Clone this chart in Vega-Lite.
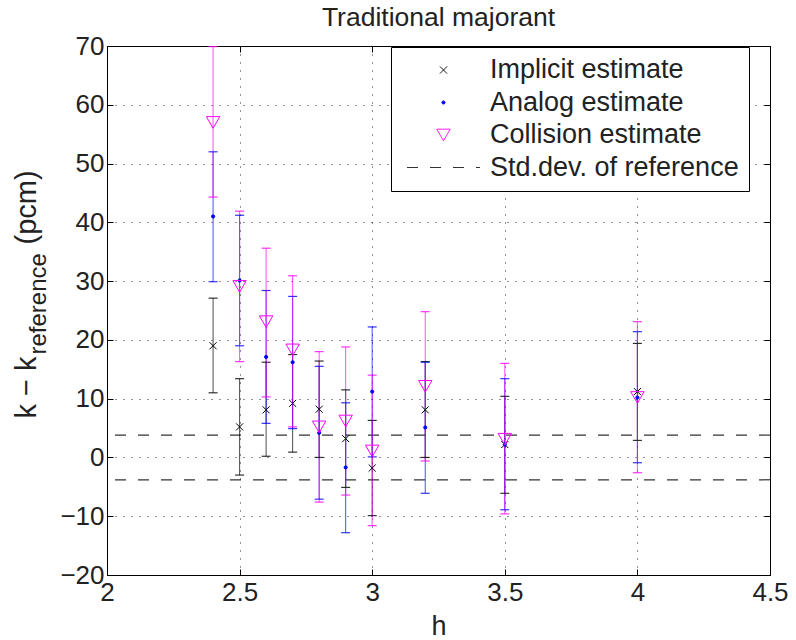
{
  "$schema": "https://vega.github.io/schema/vega-lite/v6.json",
  "width": 663,
  "height": 529,
  "autosize": {"type": "none"},
  "padding": {"left": 107, "top": 46, "right": 26, "bottom": 65},
  "background": "white",
  "title": {"text": "Traditional majorant", "fontSize": 26.5, "fontWeight": "normal", "color": "#222222", "offset": 2, "anchor": "middle", "font": "Liberation Sans"},
  "config": {
    "font": "Liberation Sans",
    "view": {"stroke": "black", "strokeWidth": 1},
    "axis": {
      "labelFontSize": 26, "labelColor": "#222222", "labelFont": "Liberation Sans",
      "titleFontSize": 29, "titleFontWeight": "normal", "titleColor": "#222222", "titleFont": "Liberation Sans",
      "gridColor": "#000000", "gridDash": [1, 7], "gridOpacity": 0.85, "gridWidth": 1,
      "tickColor": "#000000", "tickSize": -6, "tickWidth": 1,
      "domain": false, "labelFlush": false, "labelOverlap": false
    },
    "legend": {
      "orient": "none", "legendX": 284, "legendY": 1,
      "labelFontSize": 27, "labelFont": "Liberation Sans", "labelColor": "#222222", "labelLimit": 400,
      "padding": 10, "rowPadding": 5.5, "labelOffset": 33, "symbolOffset": 29, "symbolSize": 5329, "clipHeight": 26,
      "strokeColor": "black", "fillColor": "white", "symbolStrokeWidth": 1, "cornerRadius": 0
    }
  },
  "datasets": {
    "est": [
      {"h": 2.4, "series": "Implicit estimate", "val": 19.0, "lo": 11.0, "hi": 27.1},
      {"h": 2.5, "series": "Implicit estimate", "val": 5.2, "lo": -3.0, "hi": 13.4},
      {"h": 2.6, "series": "Implicit estimate", "val": 8.1, "lo": 0.2, "hi": 16.2},
      {"h": 2.7, "series": "Implicit estimate", "val": 9.2, "lo": 0.9, "hi": 17.5},
      {"h": 2.8, "series": "Implicit estimate", "val": 8.2, "lo": 0.0, "hi": 16.4},
      {"h": 2.9, "series": "Implicit estimate", "val": 3.2, "lo": -5.1, "hi": 11.5},
      {"h": 3.0, "series": "Implicit estimate", "val": -1.8, "lo": -9.9, "hi": 6.3},
      {"h": 3.2, "series": "Implicit estimate", "val": 8.1, "lo": 0.0, "hi": 16.3},
      {"h": 3.5, "series": "Implicit estimate", "val": 2.2, "lo": -6.1, "hi": 10.4},
      {"h": 4.0, "series": "Implicit estimate", "val": 11.2, "lo": 2.9, "hi": 19.4},
      {"h": 2.4, "series": "Analog estimate", "val": 41.0, "lo": 29.9, "hi": 52.0},
      {"h": 2.5, "series": "Analog estimate", "val": 30.1, "lo": 19.0, "hi": 41.2},
      {"h": 2.6, "series": "Analog estimate", "val": 17.1, "lo": 5.8, "hi": 28.4},
      {"h": 2.7, "series": "Analog estimate", "val": 16.2, "lo": 4.9, "hi": 27.4},
      {"h": 2.8, "series": "Analog estimate", "val": 4.2, "lo": -7.1, "hi": 15.5},
      {"h": 2.9, "series": "Analog estimate", "val": -1.7, "lo": -12.8, "hi": 9.3},
      {"h": 3.0, "series": "Analog estimate", "val": 11.2, "lo": 0.1, "hi": 22.2},
      {"h": 3.2, "series": "Analog estimate", "val": 5.1, "lo": -6.1, "hi": 16.2},
      {"h": 3.5, "series": "Analog estimate", "val": 2.2, "lo": -8.9, "hi": 13.4},
      {"h": 4.0, "series": "Analog estimate", "val": 10.2, "lo": -0.9, "hi": 21.4},
      {"h": 2.4, "series": "Collision estimate", "val": 57.0, "lo": 44.3, "hi": 69.9},
      {"h": 2.5, "series": "Collision estimate", "val": 29.1, "lo": 16.3, "hi": 41.9},
      {"h": 2.6, "series": "Collision estimate", "val": 23.1, "lo": 10.3, "hi": 35.6},
      {"h": 2.7, "series": "Collision estimate", "val": 18.3, "lo": 5.2, "hi": 30.9},
      {"h": 2.8, "series": "Collision estimate", "val": 5.2, "lo": -7.6, "hi": 18.0},
      {"h": 2.9, "series": "Collision estimate", "val": 6.2, "lo": -6.4, "hi": 18.8},
      {"h": 3.0, "series": "Collision estimate", "val": 1.1, "lo": -11.6, "hi": 14.0},
      {"h": 3.2, "series": "Collision estimate", "val": 12.1, "lo": -0.6, "hi": 24.8},
      {"h": 3.5, "series": "Collision estimate", "val": 3.1, "lo": -9.6, "hi": 16.0},
      {"h": 4.0, "series": "Collision estimate", "val": 10.2, "lo": -2.6, "hi": 23.1}
    ],
    "sd": [
      {"series": "Std.dev. of reference", "y": 3.8},
      {"series": "Std.dev. of reference", "y": -3.8}
    ]
  },
  "layer": [
    {
      "data": {"name": "sd"},
      "mark": {"type": "rule", "strokeWidth": 1.2},
      "encoding": {
        "y": {"field": "y", "type": "quantitative",
          "scale": {"domain": [-20, 70], "nice": false, "zero": false},
          "axis": {"orient": "left", "values": [-20, -10, 0, 10, 20, 30, 40, 50, 60, 70], "grid": true, "labelPadding": 9,
            "title": "k − k", "titleX": -72, "titleY": 372, "titleAlign": "left", "titleAngle": 270, "titleBaseline": "alphabetic"}},
        "stroke": {"field": "series", "type": "nominal",
          "scale": {"domain": ["Implicit estimate", "Analog estimate", "Collision estimate", "Std.dev. of reference"], "range": ["#000000", "#0000ff", "#ff00ff", "#333333"]},
          "legend": {"title": null, "encode": {"symbols": {"update": {"size": {"signal": "datum.value === 'Std.dev. of reference' ? 5329 : datum.value === 'Collision estimate' ? 180 : datum.value === 'Analog estimate' ? 10 : 50"}}}}}},
        "strokeDash": {"field": "series", "type": "nominal",
          "scale": {"domain": ["Implicit estimate", "Analog estimate", "Collision estimate", "Std.dev. of reference"], "range": [[1, 0], [1, 0], [1, 0], [11, 12]]},
          "legend": {"title": null, "encode": {"symbols": {"update": {"size": {"signal": "datum.value === 'Std.dev. of reference' ? 5329 : datum.value === 'Collision estimate' ? 180 : datum.value === 'Analog estimate' ? 10 : 50"}}}}}}
      }
    },
    {
      "data": {"name": "est"},
      "mark": {"type": "rule", "strokeWidth": 1, "strokeOpacity": 0.7},
      "encoding": {
        "x": {"field": "h", "type": "quantitative",
          "scale": {"domain": [2, 4.5], "nice": false, "zero": false},
          "axis": {"orient": "bottom", "values": [2, 2.5, 3, 3.5, 4, 4.5], "format": "~g", "grid": true, "labelPadding": 10,
            "title": "h", "titleFontSize": 27, "titleY": 59, "titleBaseline": "alphabetic"}},
        "y": {"field": "lo", "type": "quantitative",
          "scale": {"domain": [-20, 70], "nice": false, "zero": false},
          "axis": {"orient": "left", "labels": false, "ticks": false, "grid": false,
            "title": "reference", "titleFontSize": 24, "titleX": -62, "titleY": 308, "titleAlign": "left", "titleAngle": 270, "titleBaseline": "alphabetic"}},
        "y2": {"field": "hi"},
        "stroke": {"field": "series", "type": "nominal",
          "scale": {"domain": ["Implicit estimate", "Analog estimate", "Collision estimate", "Std.dev. of reference"], "range": ["#000000", "#0000ff", "#ff00ff", "#333333"]},
          "legend": {"title": null, "encode": {"symbols": {"update": {"size": {"signal": "datum.value === 'Std.dev. of reference' ? 5329 : datum.value === 'Collision estimate' ? 180 : datum.value === 'Analog estimate' ? 10 : 50"}}}}}}
      }
    },
    {
      "data": {"name": "est"},
      "mark": {"type": "point", "shape": "stroke", "size": 81, "strokeWidth": 1.2, "opacity": 0.8, "filled": false},
      "encoding": {
        "x": {"field": "h", "type": "quantitative", "scale": {"domain": [2, 4.5], "nice": false, "zero": false}, "axis": null},
        "y": {"field": "lo", "type": "quantitative",
          "scale": {"domain": [-20, 70], "nice": false, "zero": false},
          "axis": {"orient": "right", "values": [-20, -10, 0, 10, 20, 30, 40, 50, 60, 70], "labels": false, "grid": false, "title": null}},
        "stroke": {"field": "series", "type": "nominal",
          "scale": {"domain": ["Implicit estimate", "Analog estimate", "Collision estimate", "Std.dev. of reference"], "range": ["#000000", "#0000ff", "#ff00ff", "#333333"]},
          "legend": {"title": null, "encode": {"symbols": {"update": {"size": {"signal": "datum.value === 'Std.dev. of reference' ? 5329 : datum.value === 'Collision estimate' ? 180 : datum.value === 'Analog estimate' ? 10 : 50"}}}}}}
      }
    },
    {
      "data": {"name": "est"},
      "mark": {"type": "point", "shape": "stroke", "size": 81, "strokeWidth": 1.2, "opacity": 0.8, "filled": false},
      "encoding": {
        "x": {"field": "h", "type": "quantitative", "scale": {"domain": [2, 4.5], "nice": false, "zero": false}, "axis": null},
        "y": {"field": "hi", "type": "quantitative", "scale": {"domain": [-20, 70], "nice": false, "zero": false}, "axis": null},
        "stroke": {"field": "series", "type": "nominal",
          "scale": {"domain": ["Implicit estimate", "Analog estimate", "Collision estimate", "Std.dev. of reference"], "range": ["#000000", "#0000ff", "#ff00ff", "#333333"]},
          "legend": {"title": null, "encode": {"symbols": {"update": {"size": {"signal": "datum.value === 'Std.dev. of reference' ? 5329 : datum.value === 'Collision estimate' ? 180 : datum.value === 'Analog estimate' ? 10 : 50"}}}}}}
      }
    },
    {
      "data": {"name": "est"},
      "mark": {"type": "point", "strokeWidth": 1, "opacity": 1, "filled": false},
      "encoding": {
        "x": {"field": "h", "type": "quantitative",
          "scale": {"domain": [2, 4.5], "nice": false, "zero": false},
          "axis": {"orient": "top", "values": [2, 2.5, 3, 3.5, 4, 4.5], "labels": false, "grid": false, "title": null}},
        "y": {"field": "val", "type": "quantitative",
          "scale": {"domain": [-20, 70], "nice": false, "zero": false},
          "axis": {"orient": "left", "labels": false, "ticks": false, "grid": false,
            "title": "(pcm)", "titleX": -72, "titleY": 198, "titleAlign": "left", "titleAngle": 270, "titleBaseline": "alphabetic"}},
        "stroke": {"field": "series", "type": "nominal",
          "scale": {"domain": ["Implicit estimate", "Analog estimate", "Collision estimate", "Std.dev. of reference"], "range": ["#000000", "#0000ff", "#ff00ff", "#333333"]},
          "legend": {"title": null, "encode": {"symbols": {"update": {"size": {"signal": "datum.value === 'Std.dev. of reference' ? 5329 : datum.value === 'Collision estimate' ? 180 : datum.value === 'Analog estimate' ? 10 : 50"}}}}}},
        "fill": {"field": "series", "type": "nominal",
          "scale": {"domain": ["Implicit estimate", "Analog estimate", "Collision estimate", "Std.dev. of reference"], "range": ["transparent", "#0000ff", "transparent", "transparent"]},
          "legend": {"title": null, "encode": {"symbols": {"update": {"size": {"signal": "datum.value === 'Std.dev. of reference' ? 5329 : datum.value === 'Collision estimate' ? 180 : datum.value === 'Analog estimate' ? 10 : 50"}}}}}},
        "shape": {"field": "series", "type": "nominal",
          "scale": {"domain": ["Implicit estimate", "Analog estimate", "Collision estimate", "Std.dev. of reference"], "range": ["M-1,-1L1,1M-1,1L1,-1", "circle", "triangle-down", "stroke"]},
          "legend": {"title": null, "encode": {"symbols": {"update": {"size": {"signal": "datum.value === 'Std.dev. of reference' ? 5329 : datum.value === 'Collision estimate' ? 180 : datum.value === 'Analog estimate' ? 10 : 50"}}}}}},
        "size": {"condition": [
            {"test": "datum.series === 'Collision estimate'", "value": 180},
            {"test": "datum.series === 'Analog estimate'", "value": 10}
          ], "value": 50}
      }
    }
  ],
  "resolve": {"axis": {"x": "independent", "y": "independent"}}
}
